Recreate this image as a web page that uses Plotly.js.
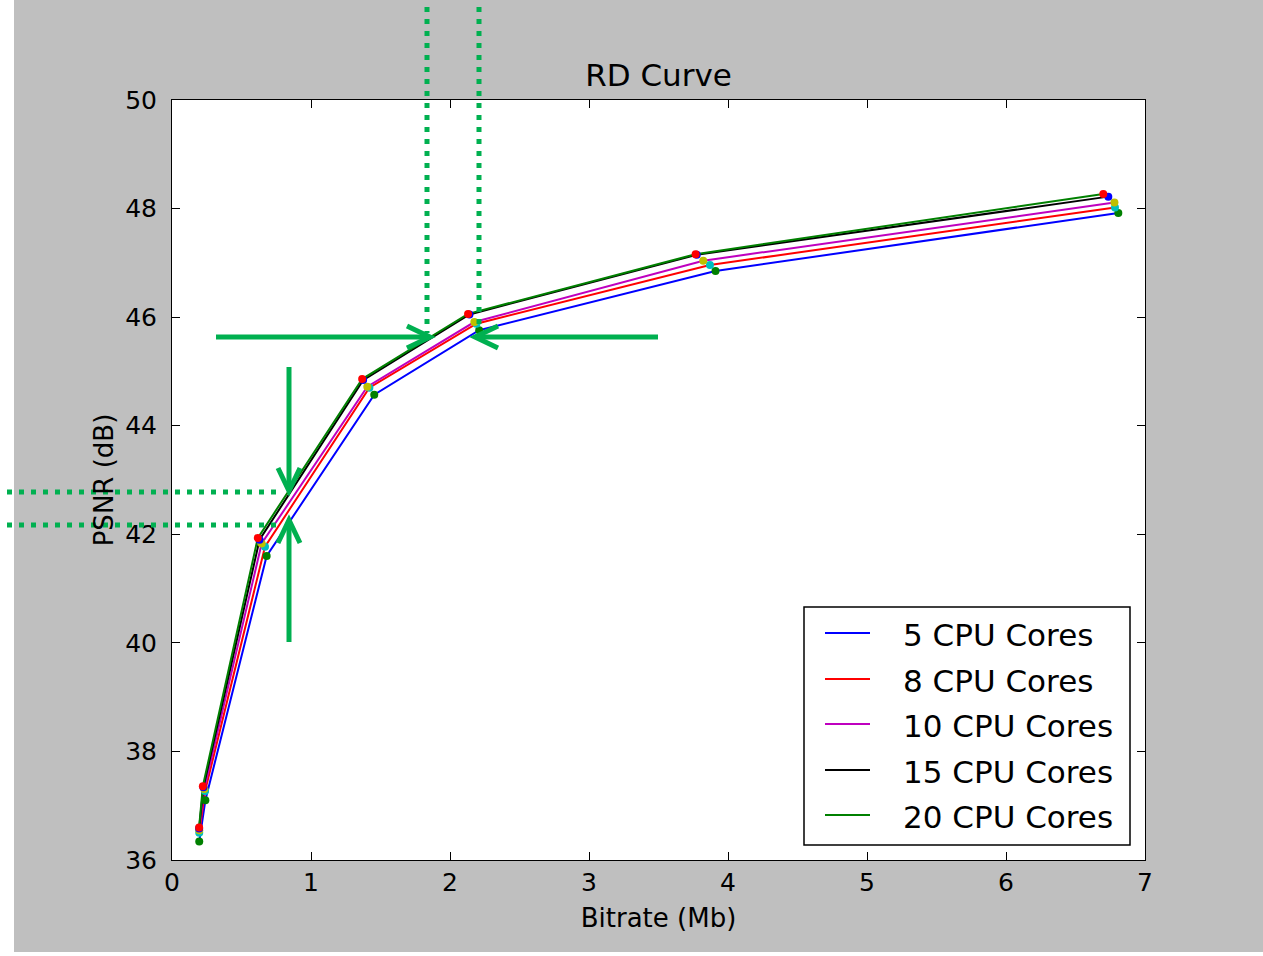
<!DOCTYPE html>
<html><head><meta charset="utf-8">
<script src="https://cdn.plot.ly/plotly-3.0.1.min.js"></script>
<style>html,body{margin:0;padding:0;background:#fff}#chart{width:1263px;height:956px}</style>
</head><body><div id="chart"></div>
<script>
// ---- data ----
const seriesNames = ["5 CPU Cores", "8 CPU Cores", "10 CPU Cores", "15 CPU Cores", "20 CPU Cores"];
const bitrate5  = [0.196, 0.240, 0.681, 1.455, 2.210, 3.910, 6.808];
const psnr5     = [36.34, 37.10, 41.60, 44.57, 45.76, 46.85, 47.92];
const bitrate8  = [0.196, 0.238, 0.669, 1.420, 2.190, 3.870, 6.784];
const psnr8     = [36.50, 37.27, 41.77, 44.70, 45.88, 46.96, 48.02];
const bitrate10 = [0.196, 0.232, 0.645, 1.405, 2.175, 3.822, 6.780];
const psnr10    = [36.55, 37.31, 41.83, 44.72, 45.91, 47.04, 48.11];
const bitrate15 = [0.195, 0.226, 0.630, 1.375, 2.140, 3.775, 6.736];
const psnr15    = [36.58, 37.34, 41.90, 44.84, 46.05, 47.15, 48.22];
const bitrate20 = [0.195, 0.222, 0.617, 1.368, 2.130, 3.767, 6.700];
const psnr20    = [36.60, 37.36, 41.93, 44.86, 46.06, 47.16, 48.27];
const xTicks = [0, 1, 2, 3, 4, 5, 6, 7];
const yTicks = [36, 38, 40, 42, 44, 46, 48, 50];

// ---- styles ----
const lineColors   = ["#0000ff", "#ff0000", "#bf00bf", "#000000", "#008000"];
const markerColors = ["#008000", "#00bfbf", "#bfbf00", "#0000ff", "#ff0000"];
const xs = [bitrate5, bitrate8, bitrate10, bitrate15, bitrate20];
const ys = [psnr5, psnr8, psnr10, psnr15, psnr20];

const traces = [];
for (let i = 0; i < 5; i++) {
  traces.push({x: xs[i], y: ys[i], mode: "lines", name: seriesNames[i], showlegend: false,
    line: {color: lineColors[i], width: 2}, hoverinfo: "x+y+name"});
}
for (let i = 0; i < 5; i++) {
  traces.push({x: xs[i], y: ys[i], mode: "markers", showlegend: false,
    marker: {color: markerColors[i], size: 8, line: {width: 0}}, hoverinfo: "skip"});
}

// ---- overlay geometry (pixel positions in the picture) ----
const L = 172, R = 1145, T = 100, B = 860;
const px = v => (v - L) / (R - L);
const py = v => (B - v) / (B - T);
const G = "#00b050";
const dotted = [[427, -5, 427, 333], [479, -5, 479, 328], [-5, 492, 283, 492], [-5, 525, 278, 525]];
const shafts = [[216, 337, 428, 337], [658, 337, 477, 337], [289, 367, 289, 489], [289, 642, 289, 522]];
const heads = [[[407, 326], [430, 337], [407, 348]], [[498, 326], [475, 337], [498, 348]],
               [[278, 468], [289, 491], [300, 468]], [[278, 543], [289, 520], [300, 543]]];
// legend box geometry
const legBox = [804, 607, 1130, 845];
const legRowY = [633, 679, 724, 770, 815];
const legLineX = [825, 870];
const legTextX = 901;

const shapes = [];
const annotations = [];
shapes.push({type: "rect", xref: "paper", yref: "paper", x0: px(-20), x1: px(14), y0: py(1000), y1: py(-20),
  fillcolor: "#ffffff", line: {width: 0}, layer: "below"});
shapes.push({type: "rect", xref: "paper", yref: "paper", x0: px(-20), x1: px(1300), y0: py(1000), y1: py(952),
  fillcolor: "#ffffff", line: {width: 0}, layer: "below"});

const font = "DejaVu Sans, Bitstream Vera Sans, sans-serif";
// legend (drawn manually to match matplotlib layout)
shapes.push({type: "rect", xref: "paper", yref: "paper", x0: px(legBox[0]), x1: px(legBox[2]),
  y0: py(legBox[3]), y1: py(legBox[1]), fillcolor: "#ffffff", line: {color: "#000", width: 1.5}, layer: "above"});
seriesNames.forEach((name, i) => {
  shapes.push({type: "line", xref: "paper", yref: "paper", x0: px(legLineX[0]), x1: px(legLineX[1]),
    y0: py(legRowY[i]), y1: py(legRowY[i]), line: {color: lineColors[i], width: 2}, layer: "above"});
  annotations.push({xref: "paper", yref: "paper", x: px(legTextX), y: py(legRowY[i] + 2), xanchor: "left", yanchor: "middle",
    text: name, showarrow: false, font: {family: font, size: 31, color: "#000"}});
});

dotted.forEach(d => shapes.push({type: "line", xref: "paper", yref: "paper",
  x0: px(d[0]), y0: py(d[1]), x1: px(d[2]), y1: py(d[3]), line: {color: G, width: 5, dash: "5px,7px"}, layer: "above"}));
shafts.forEach(d => shapes.push({type: "line", xref: "paper", yref: "paper",
  x0: px(d[0]), y0: py(d[1]), x1: px(d[2]), y1: py(d[3]), line: {color: G, width: 5}, layer: "above"}));
heads.forEach(h => shapes.push({type: "path", xref: "paper", yref: "paper",
  path: "M" + px(h[0][0]) + "," + py(h[0][1]) + " L" + px(h[1][0]) + "," + py(h[1][1]) + " L" + px(h[2][0]) + "," + py(h[2][1]),
  line: {color: G, width: 5}, layer: "above"}));

const axisCommon = {showline: true, linecolor: "#000", linewidth: 1, mirror: "ticks", ticks: "inside",
  ticklen: 8, tickcolor: "#000", showgrid: false, zeroline: false, automargin: false,
  tickfont: {family: font, size: 25, color: "#000"}};

const layout = {
  width: 1263, height: 956,
  paper_bgcolor: "#bfbfbf", plot_bgcolor: "#ffffff",
  margin: {l: L, r: 1263 - R, t: T, b: 956 - B},
  font: {family: font, color: "#000"},
  title: {text: "RD Curve", font: {family: font, size: 31, color: "#000"},
    x: 0.5, xref: "paper", xanchor: "center", y: 1 - 75 / 956, yref: "container", yanchor: "middle"},
  xaxis: Object.assign({}, axisCommon, {range: [0, 7], tickvals: xTicks, ticktext: xTicks.map(String),
    ticklabelstandoff: 0,
    title: {text: "Bitrate (Mb)", font: {family: font, size: 26, color: "#000"}, standoff: 12}}),
  yaxis: Object.assign({}, axisCommon, {range: [36, 50], tickvals: yTicks, ticktext: yTicks.map(String),
    ticklabelstandoff: 9,
    title: {text: "PSNR (dB)", font: {family: font, size: 26, color: "#000"}, standoff: 4}}),
  shapes: shapes,
  annotations: annotations,
  showlegend: false
};

Plotly.newPlot("chart", traces, layout, {displayModeBar: false, staticPlot: true});
</script>
</body></html>
